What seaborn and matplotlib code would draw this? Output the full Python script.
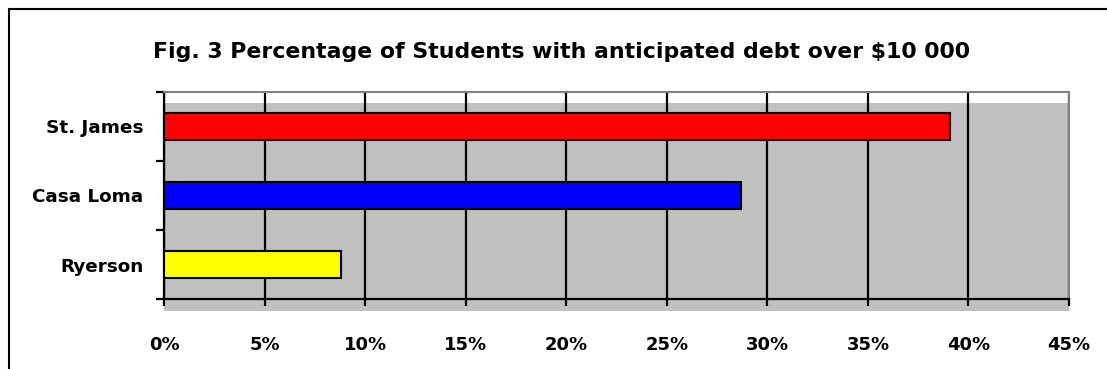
import matplotlib
matplotlib.use("Agg")
import matplotlib.pyplot as plt
import seaborn as sns
from matplotlib.patches import Rectangle
from matplotlib.ticker import FuncFormatter, FixedLocator

categories = ["St. James", "Casa Loma", "Ryerson"]
values = [39.1, 28.7, 8.8]
bar_colors = ["#FF0000", "#0000FF", "#FFFF00"]
title = "Fig. 3 Percentage of Students with anticipated debt over $10 000"

sns.set_theme(style="white")
plt.rcParams["font.family"] = ["DejaVu Sans"]

fig = plt.figure(figsize=(11.07, 3.69), dpi=100)
ax = fig.add_axes([164/1107, 1-299/369, (1069-164)/1107, (299-92)/369])
ax.set_facecolor("white")

# gray plot-area fill (slightly offset, as in the reference)
ax.add_patch(Rectangle((0, (299-311)/207), 1, (311-103)/207, transform=ax.transAxes,
                       facecolor="#C0C0C0", edgecolor="none", zorder=0, clip_on=False))

sns.barplot(x=values, y=categories, hue=categories, palette=bar_colors, legend=False,
            orient="h", width=0.4, saturation=1, edgecolor="black", linewidth=1.5,
            ax=ax, zorder=3)

ax.set_xlim(0, 45)
ax.set_ylim(2.5, -0.5)
ax.set_xticks(range(0, 46, 5))
ax.xaxis.set_major_formatter(FuncFormatter(lambda v, p: f"{int(v)}%"))
ax.grid(axis="x", color="black", linewidth=1.6, zorder=1)
ax.grid(axis="y", visible=False)
ax.set_axisbelow(True)

ax.yaxis.set_minor_locator(FixedLocator([-0.5, 0.5, 1.5, 2.5]))
ax.tick_params(axis="y", which="major", length=0, pad=15, labelsize=13.2)
ax.tick_params(axis="y", which="minor", length=6, width=1.6, color="black", left=True)
ax.tick_params(axis="x", which="major", length=5, width=1.6, color="black", bottom=True,
               pad=21.5, labelsize=13)
for lab in ax.get_xticklabels() + ax.get_yticklabels():
    lab.set_fontweight("bold")
    lab.set_color("black")

ax.set_xlabel("")
ax.set_ylabel("")
for s in ["left", "bottom"]:
    ax.spines[s].set_color("black")
    ax.spines[s].set_linewidth(1.6)
for s in ["top", "right"]:
    ax.spines[s].set_color("#808080")
    ax.spines[s].set_linewidth(1.5)

fig.text(0.507, 1-52/369, title, ha="center", va="center", fontsize=15.8,
         fontweight="bold", color="black")

# outer chart border
fig.patches.append(Rectangle((9/1107, -0.1), 1.2, 1 - 9/369 + 0.1, transform=fig.transFigure,
                             facecolor="none", edgecolor="black", linewidth=1.5))

fig.savefig("out.png", dpi=100)
